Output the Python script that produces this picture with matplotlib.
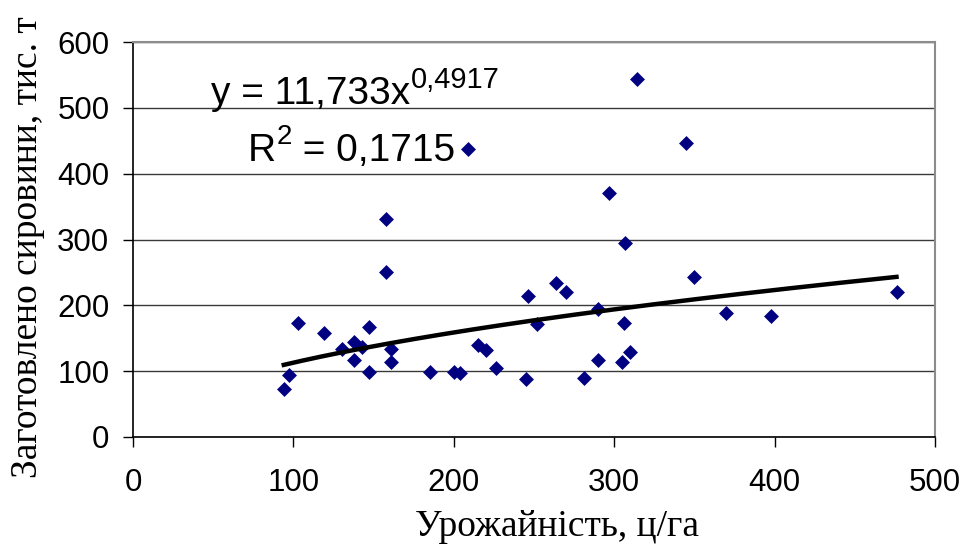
import numpy as np
import matplotlib
matplotlib.use("Agg")
import matplotlib.pyplot as plt
from matplotlib.transforms import IdentityTransform

# Data
yield_x = [94, 97, 103, 119, 130, 138, 143, 138, 147, 147, 158, 158, 161, 161,
           185, 200, 204, 209, 215, 220, 226, 246, 245, 252, 264, 270, 281, 290,
           290, 297, 314, 307, 306, 305, 310, 345, 350, 370, 398, 476]
procured_y = [73, 94, 173, 158, 134, 144, 137, 117, 167, 99, 331, 251, 134, 114,
              99, 99, 97, 437, 140, 132, 105, 214, 88, 172, 234, 220, 90, 117,
              194, 371, 544, 295, 173, 114, 129, 447, 243, 188, 184, 220]
trend_a = 11.733
trend_b = 0.4917
r2_text = "0,1715"
x_ticks = [0, 100, 200, 300, 400, 500]
y_ticks = [0, 100, 200, 300, 400, 500, 600]
x_label = "Урожайність, ц/га"
y_label = "Заготовлено сировини, тис. т"

W, H = 962, 545
fig = plt.figure(figsize=(W / 100, H / 100), dpi=100)
L, R, T, B = 133, 935, 42, 437
ax = fig.add_axes([L / W, (H - B) / H, (R - L) / W, (B - T) / H])

ax.set_xlim(0, 500)
ax.set_ylim(0, 600)
ax.set_xticks(x_ticks)
ax.set_yticks(y_ticks)
ax.yaxis.grid(True, color="#3a3a3a", linewidth=1.0)
ax.set_axisbelow(True)

for s in ["top", "right"]:
    ax.spines[s].set_color("#8c8c8c")
    ax.spines[s].set_linewidth(1.5)
for s in ["left", "bottom"]:
    ax.spines[s].set_color("black")
    ax.spines[s].set_linewidth(1.2)

ax.tick_params(axis="both", direction="out", length=7, width=1.0, color="black",
               labelsize=22.5)
ax.tick_params(axis="x", pad=15)
ax.tick_params(axis="y", pad=10)
for lab in ax.get_xticklabels() + ax.get_yticklabels():
    lab.set_family("Liberation Sans")

ax.scatter(yield_x, procured_y, marker="D", s=7.6 ** 2, color="#000080",
           linewidths=0, zorder=3)

xs = np.linspace(min(yield_x), max(yield_x), 200)
ax.plot(xs, trend_a * xs ** trend_b, color="black", linewidth=3.2, zorder=4)

# axis labels
fig.text(557 / W, (H - 536) / H, x_label, family="Liberation Serif", fontsize=27,
         ha="center", va="baseline")
fig.text(28 / W, (H - 247) / H, y_label, family="Liberation Serif", fontsize=27,
         rotation=90, ha="center", va="center")

# equation text in pixel coordinates
fig.canvas.draw()
rend = fig.canvas.get_renderer()

def ptext(px, py_top_based, s, size):
    return fig.text(px, H - py_top_based, s, transform=IdentityTransform(),
                    family="Liberation Sans", fontsize=size, ha="left",
                    va="baseline")

t1 = ptext(211, 104, "y = 11,733x", 28)
bb = t1.get_window_extent(rend)
ptext(bb.x1 + 1, 88, "0,4917", 21)

t2 = ptext(248, 161, "R", 28)
bb2 = t2.get_window_extent(rend)
t3 = ptext(bb2.x1 + 1, 144, "2", 20)
bb3 = t3.get_window_extent(rend)
ptext(bb3.x1, 161, " = " + r2_text, 28)

fig.savefig("out.png", dpi=100)
